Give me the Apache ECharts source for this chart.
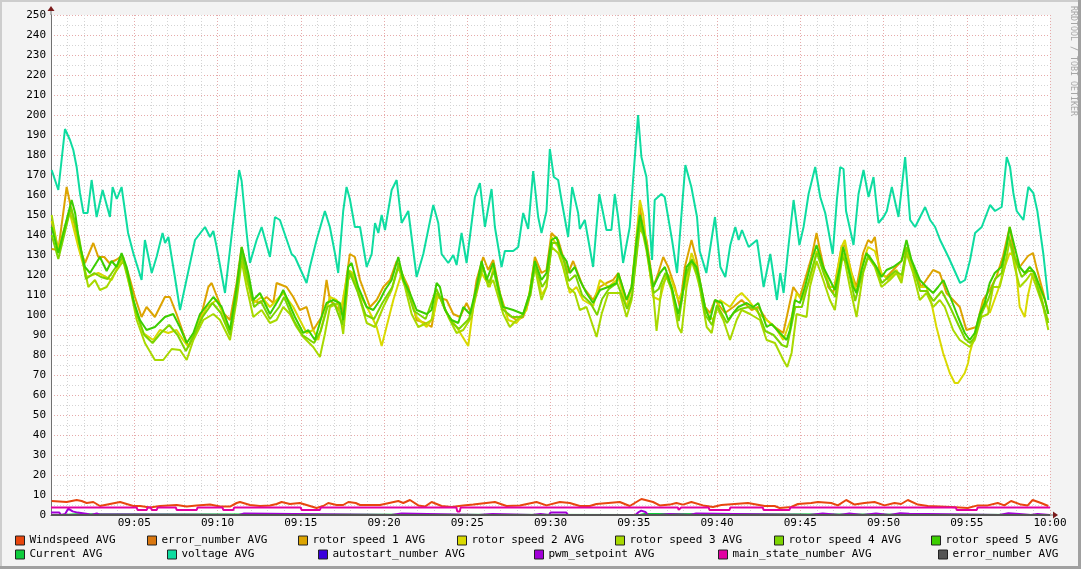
<!DOCTYPE html>
<html><head><meta charset="utf-8">
<script src="https://cdn.jsdelivr.net/npm/echarts@6/dist/echarts.min.js"></script>
<style>html,body{margin:0;padding:0;background:#F3F3F3}#c{width:1081px;height:569px}</style>
</head><body><div id="c"></div>
<script>
// ---- data: [minute after 09:00, value] ----
const xTickLabels = ['09:00','09:05','09:10','09:15','09:20','09:25','09:30','09:35','09:40','09:45','09:50','09:55','10:00'];

const seriesNames = ['Windspeed AVG','error_number AVG','rotor speed 1 AVG','rotor speed 2 AVG','rotor speed 3 AVG','rotor speed 4 AVG','rotor speed 5 AVG','Current AVG','voltage AVG','autostart_number AVG','pwm_setpoint AVG','main_state_number AVG','error_number AVG'];

const windspeed = [[0.04,7],[0.94,6.5],[1.54,7.5],[1.84,7],[2.14,6],[2.54,6.5],[2.94,4.5],[3.54,5.5],[4.15,6.5],[4.94,4.5],[5.35,4.5],[5.95,3.8],[6.55,4.5],[7.55,5],[8.15,4.2],[8.75,4.8],[9.55,5.2],[10.15,4.2],[10.75,4.2],[11.15,6],[11.35,6.5],[11.95,5],[12.55,4.5],[13.15,4.8],[13.55,5.5],[13.85,6.5],[14.35,5.5],[14.95,6],[15.55,4.5],[15.95,3.5],[16.35,4.5],[16.65,6],[17.15,5],[17.55,5],[17.86,6.5],[18.3,6],[18.56,5],[19.76,5],[20.86,7],[21.16,6],[21.56,7.5],[22.06,4.8],[22.46,4.2],[22.86,6.5],[23.46,4.5],[24.06,4],[24.76,4.8],[25.36,5.2],[26.66,6.5],[27.36,4.5],[28.16,4.8],[29.16,6.5],[29.76,4.8],[30.56,6.5],[31.16,6],[31.76,4.5],[32.36,4.5],[32.76,5.5],[34.16,6.5],[34.76,4.5],[35.46,8],[36.16,6.5],[36.56,4.8],[37.16,5.2],[37.56,6],[37.96,5.2],[38.46,6.5],[39.16,4.8],[39.76,4],[40.26,5],[41.06,5.5],[41.86,6],[42.86,4.5],[43.46,4.5],[43.76,3.5],[44.46,4],[44.86,5.5],[45.66,6],[46.06,6.5],[46.86,6],[47.26,4.8],[47.76,7.5],[48.26,5.2],[48.86,6],[49.46,6.5],[50.06,4.8],[50.66,6],[51.06,5.5],[51.46,7.5],[52.06,5.2],[52.66,4.5],[54.06,4],[55.06,3.5],[55.66,4.8],[56.26,4.8],[56.86,6],[57.26,4.8],[57.66,7],[58.26,5.2],[58.66,4.8],[58.96,7.5],[59.46,6],[59.9,4.5]];

const errorNumber = [[0,0],[60,0]];

const rotor1 = [[0.04,133],[0.44,132.5],[0.94,164],[1.24,152],[1.64,136],[2.04,126],[2.54,136],[2.84,129],[3.2,129],[3.5,126],[3.9,127.5],[4.24,129.5],[4.6,122],[5.04,109],[5.44,99],[5.74,104],[6.24,99],[6.84,109],[7.14,109],[7.54,100.5],[7.94,91],[8.25,84],[8.95,97.5],[9.45,114],[9.65,116],[10.05,107.5],[10.35,101],[10.75,97.5],[11.15,116],[11.45,134],[11.75,124],[12.05,107.5],[12.55,106],[12.95,109],[13.35,106],[13.55,116],[14.15,114],[14.55,109],[14.95,102.5],[15.35,104],[15.75,92.5],[16.25,99],[16.55,117.5],[16.75,107.5],[17.15,104],[17.45,100.5],[17.95,130.5],[18.25,129],[18.56,117.5],[19.16,104],[19.56,107.5],[19.96,114],[20.36,117.5],[20.76,127],[21.06,121],[21.46,114],[21.96,97.5],[22.46,96],[22.86,94],[23.16,109],[23.76,107.5],[24.16,100.5],[24.56,99],[24.96,106],[25.26,100.5],[25.56,117.5],[25.96,129],[26.26,122.5],[26.56,127.5],[26.96,111],[27.36,100.5],[27.96,97.5],[28.36,99],[28.66,106],[29.06,129],[29.46,121],[29.76,122.5],[30.06,141],[30.46,137.5],[30.76,129],[31.06,121],[31.36,127],[31.96,114],[32.56,107.5],[32.96,114],[33.36,116],[33.76,117.5],[34.07,121],[34.57,107.5],[34.87,114],[35.37,154],[35.57,143],[35.77,137.5],[36.17,114],[36.47,121],[36.77,129],[37.07,124],[37.47,114],[37.77,104],[38.07,124],[38.47,137.5],[38.77,127.5],[38.96,117.5],[39.28,104],[39.58,101],[39.88,107.5],[40.48,101],[40.98,104],[41.48,107.5],[42.08,102.5],[42.48,104],[42.98,97.5],[43.48,94],[43.98,91],[44.58,114],[44.98,109],[45.68,129],[45.98,141],[46.18,132.5],[46.68,114],[46.98,111],[47.48,134],[47.68,135],[48.08,121],[48.38,114],[48.78,131],[49.08,137.5],[49.28,136],[49.48,139],[49.78,121],[50.18,119],[50.58,122.5],[51.08,127],[51.38,134],[51.68,126],[52.08,117.5],[52.28,114],[52.98,122.5],[53.38,121],[53.78,111],[54.18,107.5],[54.58,104],[54.98,92.5],[55.58,94],[55.98,107.5],[56.38,112.5],[56.78,119],[57.18,129.5],[57.58,144],[57.88,129],[58.18,124],[58.68,129.5],[58.98,131],[59.18,124],[59.6,111],[59.9,100.5]];

const rotor2 = [[0.04,147],[0.44,133],[1.1,152],[1.64,134],[2.14,119],[2.84,121],[3.64,117.5],[4.14,126],[4.34,129],[4.74,114],[5.15,100.5],[5.54,91],[6.14,87.5],[6.54,92.5],[7.04,91],[7.54,92.5],[7.94,87.5],[8.25,84],[8.75,94],[9.35,104],[9.95,107.5],[10.35,100.5],[10.75,91],[11.15,111],[11.45,131],[11.75,117.5],[12.15,106],[12.65,109],[13.15,104],[13.55,107.5],[13.95,111],[14.55,104],[14.95,97.5],[15.35,91],[15.75,92.5],[16.05,87.5],[16.45,100.5],[16.75,109],[17.15,107.5],[17.45,104],[17.85,122.5],[18.15,121],[18.56,110],[19.16,101],[19.56,94],[19.86,84.5],[20.56,107.5],[21.06,121],[21.36,114],[21.96,99],[22.56,94],[22.96,99],[23.26,111],[23.76,101],[24.36,94],[25.06,84.5],[25.36,104],[25.86,121],[26.36,114],[26.56,124],[27.06,107.5],[27.46,97.5],[27.96,96],[28.56,102.5],[29.06,127],[29.46,110],[29.76,114],[30.06,139],[30.46,134],[30.86,121],[31.16,111],[31.56,114],[31.96,107.5],[32.56,104.5],[32.97,117.5],[33.47,114],[33.97,117.5],[34.07,119],[34.57,104],[34.87,114],[35.37,157.5],[35.57,150],[35.77,134],[36.17,109],[36.57,107.5],[36.97,121],[37.27,117.5],[37.67,107.5],[38.07,114],[38.47,131],[38.77,124],[38.96,114],[39.38,101],[39.78,97.5],[40.18,107.5],[40.78,104],[41.18,109],[41.48,111],[41.88,107.5],[42.48,101],[42.98,97.5],[43.48,94],[43.98,87.5],[44.48,99],[44.78,111],[45.08,107.5],[45.58,117.5],[45.98,132],[46.38,124],[46.78,114],[47.08,114],[47.48,134],[47.68,137.5],[47.98,124],[48.38,111],[48.78,127],[49.08,134],[49.48,132],[49.88,121],[50.28,117.5],[50.78,122.5],[51.08,117.5],[51.38,132],[51.78,122.5],[52.18,114],[52.58,114],[52.88,106],[53.18,94],[53.58,81],[53.98,71],[54.28,66],[54.48,66],[54.88,71],[55.08,76],[55.18,81],[55.58,92.5],[56.08,107.5],[56.38,101],[56.88,112.5],[57.28,124],[57.58,131],[57.88,129.5],[58.18,104],[58.48,99],[58.68,110],[58.98,121],[59.38,114],[59.68,101],[59.9,97.5]];

const rotor3 = [[0.04,150],[0.44,131],[1.1,151],[1.45,146],[1.75,134],[2.24,114],[2.64,117.5],[2.94,112.5],[3.34,114],[3.84,121],[4.34,127],[4.74,114],[5.15,97.5],[5.64,86],[6.24,77.5],[6.74,77.5],[7.25,83],[7.75,82.5],[8.15,77.5],[8.55,87.5],[9.15,97.5],[9.75,100.5],[10.15,97.5],[10.75,87.5],[11.15,107.5],[11.45,127],[11.75,114],[12.15,99],[12.65,102.5],[13.15,96],[13.55,97.5],[13.95,104],[14.35,100.5],[14.75,94],[15.15,89],[15.75,84],[16.15,79],[16.45,90.5],[16.75,104],[17.25,106],[17.55,90.5],[17.85,117.5],[18.05,121],[18.45,111],[18.96,96],[19.46,94],[19.96,104],[20.46,112.5],[20.86,124],[21.26,114],[21.66,100.5],[22.06,94],[22.56,96],[22.86,97.5],[23.16,111],[23.46,107.5],[23.86,99],[24.36,91],[24.76,92.5],[25.26,99],[25.56,112.5],[25.96,124],[26.26,114],[26.56,117.5],[27.16,100.5],[27.56,94],[27.96,97.5],[28.36,100.5],[28.86,114],[29.06,124],[29.46,107.5],[29.76,114],[30.06,134],[30.46,131],[30.76,124],[31.06,114],[31.46,111],[31.76,102.5],[32.16,104],[32.77,89],[33.07,100.5],[33.47,111],[33.87,111],[34.17,111],[34.57,99],[34.87,107.5],[35.37,144],[35.57,140],[35.77,132],[36.17,111],[36.37,92],[36.67,114],[36.97,119],[37.27,112.5],[37.67,94],[37.87,91],[38.17,114],[38.47,127],[38.77,120],[38.96,114],[39.38,94],[39.68,91],[39.98,104],[40.38,97.5],[40.78,87.5],[41.18,97.5],[41.48,102.5],[41.98,100.5],[42.58,97.5],[42.98,87.5],[43.48,86],[43.98,77.5],[44.22,74],[44.48,81],[44.78,100.5],[45.38,99],[45.58,114],[45.98,127],[46.38,117.5],[46.78,107.5],[47.08,102.5],[47.38,121],[47.58,131],[47.98,114],[48.38,99],[48.78,121],[49.08,129],[49.48,124],[49.88,114],[50.38,117.5],[50.78,121],[51.08,116],[51.38,131],[51.78,121],[52.18,107.5],[52.58,111],[52.98,104],[53.38,107.5],[53.68,104],[54.18,92.5],[54.58,87.5],[55.18,84],[55.48,87.5],[55.88,99],[56.28,100.5],[56.58,114],[56.98,114],[57.28,124],[57.58,137.5],[57.88,124],[58.18,114],[58.58,117.5],[58.88,121],[59.18,114],[59.6,104],[59.9,92.5]];

const rotor4 = [[0.04,140],[0.44,128],[1.2,154],[1.7,138],[2.1,118],[2.6,121],[3.0,119],[3.4,118],[3.9,124],[4.3,129],[4.7,117],[5.1,102],[5.6,90],[6.1,86],[6.6,91],[7.1,95],[7.6,90],[8.1,82],[8.6,90],[9.1,99],[9.7,106],[10.2,101],[10.75,90],[11.15,110],[11.45,131],[11.8,118],[12.2,104],[12.6,107],[13.15,98],[13.7,104],[14.0,109],[14.6,97],[15.1,90],[15.8,86],[16.2,92],[16.6,104],[17.0,106],[17.5,95],[17.9,122],[18.4,112],[18.9,100],[19.4,98],[19.9,106],[20.5,114],[20.9,126],[21.3,115],[21.8,102],[22.5,98],[23.15,113],[23.6,104],[24.1,96],[24.5,93],[25.1,98],[25.6,113],[25.9,125],[26.3,116],[26.6,122],[27.1,103],[27.7,99],[28.3,99],[28.8,110],[29.06,125],[29.5,114],[29.8,118],[30.1,136],[30.4,136],[30.8,127],[31.1,117],[31.5,120],[31.9,110],[32.4,106],[32.8,100],[33.1,108],[33.5,113],[34.0,116],[34.6,103],[34.9,110],[35.37,147],[35.6,140],[35.8,133],[36.2,111],[36.5,113],[36.9,121],[37.3,113],[37.7,97],[38.1,119],[38.5,128],[38.9,118],[39.3,100],[39.7,95],[40.0,105],[40.6,96],[41.0,101],[41.4,103],[41.9,104],[42.4,103],[42.9,92],[43.4,90],[43.9,85],[44.2,84],[44.7,104],[45.1,104],[45.6,120],[46.0,131],[46.4,121],[46.8,113],[47.1,109],[47.5,129],[47.8,126],[48.3,107],[48.7,120],[49.1,130],[49.5,125],[49.9,116],[50.3,119],[50.7,122],[51.1,120],[51.4,134],[51.8,124],[52.2,112],[52.6,112],[53.0,107],[53.5,112],[54.0,104],[54.5,95],[54.9,88],[55.2,86],[55.5,89],[55.9,101],[56.3,108],[56.7,118],[57.1,121],[57.5,140],[57.9,128],[58.3,119],[58.7,122],[59.0,122],[59.4,110],[59.7,102],[59.9,96]];

const rotor5 = [[0.04,144],[0.44,131],[1.24,157.5],[1.45,151],[1.7,136],[2.04,124],[2.34,121],[2.94,129],[3.34,122],[3.64,127],[3.94,124],[4.24,131],[4.54,124],[4.94,107.5],[5.34,97.5],[5.74,92.5],[6.24,94],[6.84,99],[7.34,100.5],[7.74,94],[8.15,86],[8.55,91],[8.95,100.5],[9.75,109],[10.25,104],[10.75,92.5],[11.15,114],[11.45,134],[11.85,121],[12.15,107.5],[12.55,111],[13.15,100.5],[13.65,107.5],[13.95,112.5],[14.65,99],[15.15,91],[15.45,92.5],[15.85,87.5],[16.25,99],[16.55,106],[16.95,107.5],[17.35,106],[17.55,97.5],[17.85,124],[18.05,126],[18.45,114],[18.96,104],[19.36,102.5],[19.76,107.5],[20.06,112.5],[20.46,117.5],[20.86,129],[21.16,117.5],[21.56,111],[21.96,102.5],[22.56,100.5],[22.86,102.5],[23.16,116],[23.36,114],[23.66,102.5],[24.06,97.5],[24.46,96],[24.76,104],[25.16,100.5],[25.56,114],[25.86,127],[26.16,117.5],[26.56,126],[26.86,114],[27.16,104],[27.76,102.5],[28.36,100.5],[28.76,111],[29.06,127],[29.46,117.5],[29.76,121],[30.06,137.5],[30.36,139],[30.66,130.5],[30.96,127],[31.16,121],[31.46,124],[31.76,117.5],[32.16,111],[32.56,106],[32.97,112.5],[33.47,114],[33.97,116],[34.07,121],[34.57,107.5],[34.87,114],[35.17,137.5],[35.37,150],[35.57,143],[35.77,134],[36.17,114],[36.57,121],[36.87,124],[37.27,114],[37.67,100.5],[37.87,107.5],[38.17,124],[38.47,127],[38.77,124],[38.96,117.5],[39.28,104],[39.58,97.5],[39.88,107.5],[40.28,106],[40.68,97.5],[40.98,101],[41.28,104],[41.78,106],[42.18,104],[42.48,106],[42.98,94],[43.28,95.5],[43.78,91],[44.18,87.5],[44.38,92.5],[44.68,107.5],[44.98,106],[45.28,114],[45.68,127],[45.98,135],[46.38,124],[46.78,117.5],[47.08,112.5],[47.38,124],[47.58,134],[47.88,124],[48.18,114],[48.38,111],[48.68,122.5],[48.98,131],[49.28,127.5],[49.58,124],[49.88,119],[50.18,122.5],[50.58,124],[51.08,127],[51.38,137.5],[51.68,127.5],[52.18,117.5],[52.58,114],[52.98,111],[53.28,114],[53.6,117.5],[54.08,107.5],[54.48,99],[54.88,91],[55.18,87.5],[55.48,91],[55.78,100.5],[56.08,106],[56.38,116],[56.68,121],[57.08,124],[57.38,134],[57.58,144],[57.88,134],[58.18,124],[58.48,121],[58.78,124],[59.08,121],[59.4,114],[59.7,107.5],[59.9,100.5]];

const current = [[0,0],[0.7,0],[0.8,0.4],[1.5,0.4],[1.6,0],[35.35,0],[35.45,0.5],[35.65,0.5],[35.75,0],[60,0]];

const voltage = [[0.04,172.5],[0.44,162.5],[0.84,193],[1.14,187.5],[1.34,182.5],[1.54,174],[1.74,161],[1.95,151],[2.2,151],[2.44,167.5],[2.74,149],[3.1,162.5],[3.54,149],[3.7,164],[3.95,158],[4.24,164],[4.63,141],[4.94,131],[5.44,117.5],[5.64,137.5],[6.05,121],[6.34,129],[6.7,141],[6.85,136],[7.05,139],[7.44,119],[7.75,102.5],[8.65,137.5],[9.25,144],[9.55,139],[9.75,142],[9.95,134],[10.45,111],[11.3,172.5],[11.45,167],[11.75,141],[11.95,126],[12.35,137.5],[12.65,144],[13.15,129],[13.45,149],[13.75,147.5],[14.45,130.5],[14.65,129],[15.35,116],[15.55,124],[15.95,137.5],[16.45,152],[16.75,144],[17.05,131],[17.25,121],[17.55,152],[17.75,164],[17.95,158],[18.25,144],[18.56,144],[18.96,124],[19.26,130.5],[19.46,146],[19.66,141],[19.86,150],[20.06,142.5],[20.46,162.5],[20.76,167.5],[21.06,146],[21.46,152],[21.96,119],[22.36,130.5],[22.96,155],[23.26,146],[23.46,130.5],[23.86,126],[24.16,130],[24.36,125],[24.66,141],[24.96,126],[25.46,159],[25.76,166],[26.06,144],[26.46,163],[26.66,144],[27.06,124],[27.26,132],[27.76,132],[28.06,134],[28.36,151],[28.66,143],[28.96,172],[29.26,149],[29.46,141],[29.76,152],[29.96,183],[30.2,169],[30.46,167.5],[30.66,157.5],[31.06,139],[31.3,164],[31.66,151],[31.76,143],[32.06,147.5],[32.56,124],[32.93,160.5],[33.36,142.5],[33.66,142.5],[33.86,160.5],[34.06,149],[34.36,126],[34.76,144],[34.96,167.5],[35.26,200],[35.46,179],[35.76,169],[36.1,127.5],[36.26,157.5],[36.66,160.5],[36.86,159],[37.3,137.5],[37.6,121],[37.9,154],[38.1,175],[38.46,164],[38.8,149],[38.96,132],[39.36,121],[39.88,149],[40.2,124],[40.5,119],[40.8,135],[41.1,144],[41.3,137.5],[41.5,142.5],[41.9,134],[42.4,137.5],[42.8,114],[43.2,130.5],[43.6,107.5],[43.8,121],[44.0,111],[44.3,135],[44.6,157.5],[44.95,135],[45.2,144],[45.5,160.5],[45.9,174],[46.2,159],[46.5,151],[46.95,130.5],[47.2,157.5],[47.4,174],[47.6,173],[47.75,152],[48.2,135],[48.5,160.5],[48.8,172.5],[49.1,159],[49.4,169],[49.7,146],[50.0,149],[50.2,152],[50.5,164],[50.9,149],[51.3,179],[51.6,147.5],[51.9,144],[52.5,154],[52.8,147.5],[53.1,144],[53.4,137.5],[53.9,129],[54.6,116],[54.9,117.5],[55.2,127.5],[55.5,141],[55.9,144],[56.4,155],[56.7,152],[57.1,154],[57.4,179],[57.6,174],[57.8,161],[58.0,152],[58.4,147.5],[58.7,164],[59.0,161],[59.24,152],[59.6,130.5],[59.9,107.5]];

const autostartNumber = [[0,0],[60,0]];

const pwmSetpoint = [[0,1.2],[0.5,1.2],[0.6,0],[0.85,0.5],[1.04,3.2],[1.3,1.8],[1.6,1.2],[2.2,0.5],[2.4,0],[2.5,0.8],[2.75,0.8],[2.9,0.3],[4.6,0.3],[4.7,0],[11.3,0],[11.4,0.8],[11.6,0.8],[11.7,0],[20.45,0],[20.55,0.8],[21.05,0.8],[21.15,0],[25.7,0],[25.8,0.5],[26.5,0.5],[26.6,0],[28.9,0],[29.0,0.5],[29.4,0.5],[29.5,0],[29.9,0],[30.0,1.2],[30.95,1.2],[31.05,0],[31.3,0],[31.4,0.5],[31.5,0],[35.1,0],[35.3,1.5],[35.45,2.2],[35.7,1.5],[35.85,0],[36.55,0],[36.65,0.5],[37.15,0.5],[37.25,0],[38.35,0],[38.45,0.8],[38.75,0.8],[38.85,0],[45.55,0],[45.65,0.8],[46.35,0.8],[46.45,0],[47.35,0],[47.45,0.8],[47.95,0.8],[48.05,0],[48.75,0],[48.85,0.8],[49.55,0.8],[49.65,0],[50.35,0],[50.45,0.6],[51.0,0.9],[51.55,0.6],[51.65,0],[56.95,0],[57.05,0.5],[57.5,0.9],[58.15,0.5],[58.25,0],[58.85,0],[58.95,0.5],[59.25,0.5],[59.35,0],[60,0]];

const mainStateNumber = [[0,3.7],[5.15,3.7],[5.2,2.5],[5.75,2.5],[5.8,3.7],[6.0,3.7],[6.05,2.5],[6.35,2.5],[6.4,3.7],[7.5,3.7],[7.55,2.5],[8.75,2.5],[8.8,3.7],[10.3,3.7],[10.35,2.5],[10.95,2.5],[11.0,3.7],[15.0,3.7],[15.05,2.5],[16.15,2.5],[16.2,3.7],[24.35,3.7],[24.4,1.8],[24.55,1.8],[24.6,3.7],[37.65,3.7],[37.7,2.6],[37.8,2.6],[37.85,3.7],[39.5,3.7],[39.55,2.5],[40.75,2.5],[40.8,3.7],[42.75,3.7],[42.8,2.5],[44.35,2.5],[44.4,3.7],[54.35,3.7],[54.4,2.5],[55.6,2.5],[55.65,3.7],[60,3.7]];

const errorNumber2 = [[0,0],[60,0]];

// ---- styling / layout ----
const seriesData = [windspeed, errorNumber, rotor1, rotor2, rotor3, rotor4, rotor5, current, voltage, autostartNumber, pwmSetpoint, mainStateNumber, errorNumber2];
const seriesColors = ['#E8460E','#DA770F','#DCA400','#D9D900','#A8D900','#7CD400','#3CCE00','#0ECC3C','#0EDCA0','#3A00DD','#A200D8','#E200A2','#555555'];
const legendLayout = [[15,535],[147,535],[298,535],[457,535],[615,535],[774,535],[931,535],[15,549],[167,549],[318,549],[534,549],[718,549],[938,549]];
const FONT = 'DejaVu Sans Mono';

const chart = echarts.init(document.getElementById('c'), null, {renderer: 'canvas'});
const ids = seriesNames.map((n, i) => i === 12 ? n + '#2' : n);

const option = {
  animation: false,
  backgroundColor: '#F3F3F3',
  textStyle: {fontFamily: FONT},
  grid: {left: 51, right: 31, top: 15, bottom: 54, show: true, backgroundColor: '#FFFFFF', borderWidth: 0},
  xAxis: {
    type: 'value', min: 0, max: 60, interval: 5,
    axisLine: {show: true, onZero: false, lineStyle: {color: '#707070', width: 1}},
    axisTick: {show: false},
    axisLabel: {color: '#000', fontFamily: FONT, fontSize: 11, margin: 3,
      formatter: v => (v === 0 ? '' : xTickLabels[Math.round(v / 5)])},
    splitLine: {show: true, lineStyle: {color: '#E6AAAA', type: [1, 2], width: 1}},
    minorTick: {show: false, splitNumber: 5},
    minorSplitLine: {show: true, lineStyle: {color: '#D4D4D4', type: [1, 2], width: 1}}
  },
  yAxis: {
    type: 'value', min: 0, max: 250, interval: 10,
    axisLine: {show: true, lineStyle: {color: '#707070', width: 1}},
    axisTick: {show: false},
    axisLabel: {color: '#000', fontFamily: FONT, fontSize: 11, margin: 5},
    splitLine: {show: true, lineStyle: {color: '#E6AAAA', type: [1, 2], width: 1}},
    minorTick: {show: false, splitNumber: 2},
    minorSplitLine: {show: true, lineStyle: {color: '#D4D4D4', type: [1, 2], width: 1}}
  },
  legend: ids.map((id, i) => ({
    data: [id], left: legendLayout[i][0], top: legendLayout[i][1], padding: 0,
    orient: 'horizontal', selectedMode: false, icon: 'rect', itemWidth: 9, itemHeight: 9,
    itemStyle: {borderColor: '#222', borderWidth: 1},
    formatter: name => name.replace('#2', ''),
    textStyle: {fontFamily: FONT, fontSize: 11, color: '#000'}
  })),
  series: ids.map((id, i) => ({
    name: id, type: 'line', data: seriesData[i], showSymbol: false, symbol: 'none',
    color: seriesColors[i], lineStyle: {color: seriesColors[i], width: 2},
    clip: true, silent: true
  }))
};
chart.setOption(option);

// decorations: axis arrows, frame and vertical credit text
const pO = chart.convertToPixel({gridIndex: 0}, [0, 0]);
const pT = chart.convertToPixel({gridIndex: 0}, [0, 250]);
const pR = chart.convertToPixel({gridIndex: 0}, [60, 0]);
const arrowColor = '#7A1A1A';
chart.setOption({
  graphic: [
    {type: 'line', shape: {x1: pT[0], y1: pT[1], x2: pT[0], y2: pT[1] - 5}, style: {stroke: '#707070', lineWidth: 1}},
    {type: 'polygon', shape: {points: [[pT[0] - 3.5, pT[1] - 4], [pT[0] + 3.5, pT[1] - 4], [pT[0], pT[1] - 9]]}, style: {fill: arrowColor}},
    {type: 'line', shape: {x1: pR[0], y1: pR[1], x2: pR[0] + 4, y2: pR[1]}, style: {stroke: '#707070', lineWidth: 1}},
    {type: 'polygon', shape: {points: [[pR[0] + 3, pR[1] - 3.5], [pR[0] + 3, pR[1] + 3.5], [pR[0] + 8, pR[1]]]}, style: {fill: arrowColor}},
    {type: 'text', x: 1073, y: 6, rotation: -Math.PI / 2,
      style: {text: 'RRDTOOL / TOBI OETIKER', fill: '#A6A6A6', font: '8.3px "DejaVu Sans Mono"', textAlign: 'left', textVerticalAlign: 'middle'}},
    {type: 'rect', shape: {x: 0, y: 0, width: 2, height: 569}, style: {fill: '#CDCDCD'}},
    {type: 'rect', shape: {x: 0, y: 0, width: 1081, height: 2}, style: {fill: '#CDCDCD'}},
    {type: 'rect', shape: {x: 1078, y: 0, width: 3, height: 569}, style: {fill: '#A0A0A0'}},
    {type: 'rect', shape: {x: 0, y: 566, width: 1081, height: 3}, style: {fill: '#A0A0A0'}}
  ]
});
</script>
</body></html>
